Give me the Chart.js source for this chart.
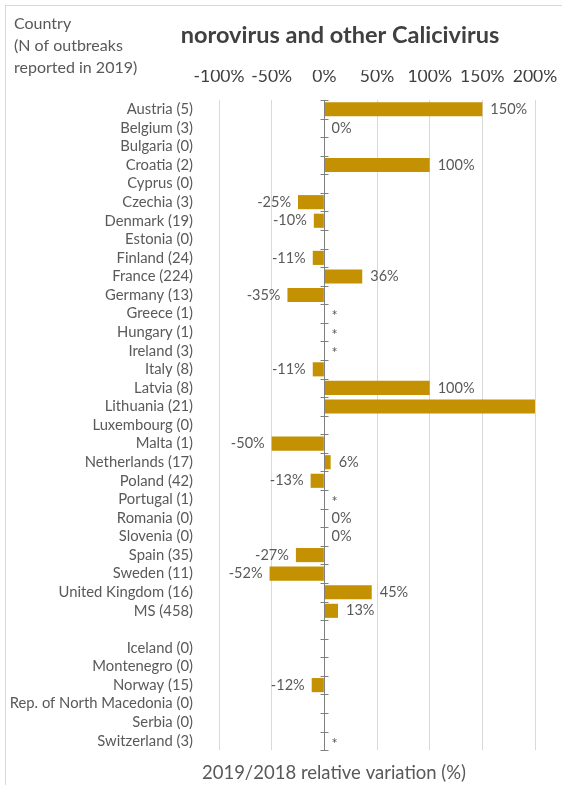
<!DOCTYPE html>
<html>
<head>
<meta charset="utf-8">
<script src="https://cdn.jsdelivr.net/npm/chart.js@4.4.0/dist/chart.umd.min.js"></script>
<style>
  html, body { margin: 0; padding: 0; background: #fff; }
  canvas { display: block; }
</style>
</head>
<body>
<canvas id="chart" width="562" height="785"></canvas>
<script>
// Countries (N of outbreaks reported in 2019); '' is the spacer row
const countries = [
    'Austria (5)', 'Belgium (3)', 'Bulgaria (0)', 'Croatia (2)', 'Cyprus (0)',
    'Czechia (3)', 'Denmark (19)', 'Estonia (0)', 'Finland (24)', 'France (224)',
    'Germany (13)', 'Greece (1)', 'Hungary (1)', 'Ireland (3)', 'Italy (8)',
    'Latvia (8)', 'Lithuania (21)', 'Luxembourg (0)', 'Malta (1)', 'Netherlands (17)',
    'Poland (42)', 'Portugal (1)', 'Romania (0)', 'Slovenia (0)', 'Spain (35)',
    'Sweden (11)', 'United Kingdom (16)', 'MS (458)', '',
    'Iceland (0)', 'Montenegro (0)', 'Norway (15)', 'Rep. of North Macedonia (0)',
    'Serbia (0)', 'Switzerland (3)'
];

// 2019/2018 relative variation (%)
const variation = [
    150, 0, null, 100, null,
    -25, -10, null, -11, 36,
    -35, null, null, null, -11,
    100, 200, null, -50, 6,
    -13, null, 0, 0, -27,
    -52, 45, 13, null,
    null, null, -12, null,
    null, null
];

// text shown next to each bar
const valueLabels = [
    '150%', '0%', '', '100%', '',
    '-25%', '-10%', '', '-11%', '36%',
    '-35%', '*', '*', '*', '-11%',
    '100%', '', '', '-50%', '6%',
    '-13%', '*', '0%', '0%', '-27%',
    '-52%', '45%', '13%', '',
    '', '', '-12%', '',
    '', '*'
];

const xTicks = [-100, -50, 0, 50, 100, 150, 200];

const FONT = 'Lato, "Open Sans", sans-serif';
const barColor = '#C49102';
const textGray = '#595959';

// frame, title and free texts
const decorPlugin = {
    id: 'decor',
    beforeDraw(chart) {
        const c = chart.ctx;
        c.save();
        c.fillStyle = '#fff';
        c.fillRect(0, 0, chart.width, chart.height);
        c.strokeStyle = '#d9d9d9';
        c.lineWidth = 1;
        c.strokeRect(5.5, 5.5, chart.width - 4, chart.height - 3);
        c.restore();
    },
    afterDraw(chart) {
        const c = chart.ctx;
        c.save();
        c.textBaseline = 'middle';
        c.fillStyle = textGray;
        c.font = '16px ' + FONT;
        c.textAlign = 'left';
        c.fillText('Country', 14, 24);
        c.fillText('(N of outbreaks', 14, 46);
        c.fillText('reported in 2019)', 14, 68);

        c.fillStyle = '#404040';
        c.font = 'bold 23.5px ' + FONT;
        c.textAlign = 'center';
        c.fillText('norovirus and other Calicivirus', 340, 35);

        c.fillStyle = textGray;
        c.font = '18.5px ' + FONT;
        c.fillText('2019/2018 relative variation (%)', 334, 773);
        c.restore();
    }
};

// zero axis with tick marks and the value labels
const zeroAxisPlugin = {
    id: 'zeroAxis',
    afterDatasetsDraw(chart) {
        const c = chart.ctx;
        const xs = chart.scales.x;
        const ys = chart.scales.y;
        const x0 = Math.round(xs.getPixelForValue(0)) + 0.5;
        const step = (ys.getPixelForValue(1) - ys.getPixelForValue(0));
        c.save();
        c.strokeStyle = '#808080';
        c.lineWidth = 1;
        c.beginPath();
        c.moveTo(x0, chart.chartArea.top);
        c.lineTo(x0, chart.chartArea.bottom);
        for (let i = 0; i <= countries.length; i++) {
            const y = Math.round(ys.getPixelForValue(0) + step * (i - 0.5)) + 0.5;
            c.moveTo(x0 - 4, y);
            c.lineTo(x0 + 4, y);
        }
        c.stroke();

        const meta = chart.getDatasetMeta(0);
        c.font = '14.5px ' + FONT;
        c.fillStyle = textGray;
        c.textBaseline = 'middle';
        valueLabels.forEach((txt, i) => {
            if (!txt) return;
            const v = variation[i];
            const y = ys.getPixelForValue(i) + (txt === '*' ? 3 : 0);
            if (v === null || v === 0) {
                c.textAlign = 'left';
                c.fillText(txt, x0 + 7, y);
            } else if (v > 0) {
                c.textAlign = 'left';
                c.fillText(txt, meta.data[i].x + 8, y);
            } else {
                c.textAlign = 'right';
                c.fillText(txt, meta.data[i].x - 7, y);
            }
        });
        c.restore();
    }
};

new Chart(document.getElementById('chart'), {
    type: 'bar',
    data: {
        labels: countries,
        datasets: [{
            data: variation,
            backgroundColor: barColor,
            borderWidth: 0,
            barPercentage: 0.76,
            categoryPercentage: 1
        }]
    },
    options: {
        indexAxis: 'y',
        responsive: false,
        animation: false,
        layout: { padding: { top: 70, right: 27, bottom: 28, left: 0 } },
        plugins: {
            legend: { display: false },
            tooltip: { enabled: false }
        },
        scales: {
            x: {
                position: 'top',
                min: -100,
                max: 200,
                afterBuildTicks(scale) {
                    scale.ticks = xTicks.map(v => ({ value: v }));
                },
                afterFit(scale) {
                    scale.height = 30;
                    scale.paddingLeft = 0;
                    scale.paddingRight = 0;
                },
                grid: {
                    color: ctx => (ctx.tick && ctx.tick.value === 0) ? 'rgba(0,0,0,0)' : '#d9d9d9',
                    drawTicks: false
                },
                border: { display: false },
                ticks: {
                    padding: 13,
                    autoSkip: false,
                    maxRotation: 0,
                    minRotation: 0,
                    color: '#404040',
                    font: { family: FONT, size: 17.5 },
                    callback: v => v + '%'
                }
            },
            y: {
                afterFit(scale) { scale.width = 219; },
                grid: { display: false, drawTicks: false },
                border: { display: false },
                ticks: {
                    padding: 26,
                    autoSkip: false,
                    color: textGray,
                    font: { family: FONT, size: 14.8 }
                }
            }
        }
    },
    plugins: [decorPlugin, zeroAxisPlugin]
});
</script>
</body>
</html>
